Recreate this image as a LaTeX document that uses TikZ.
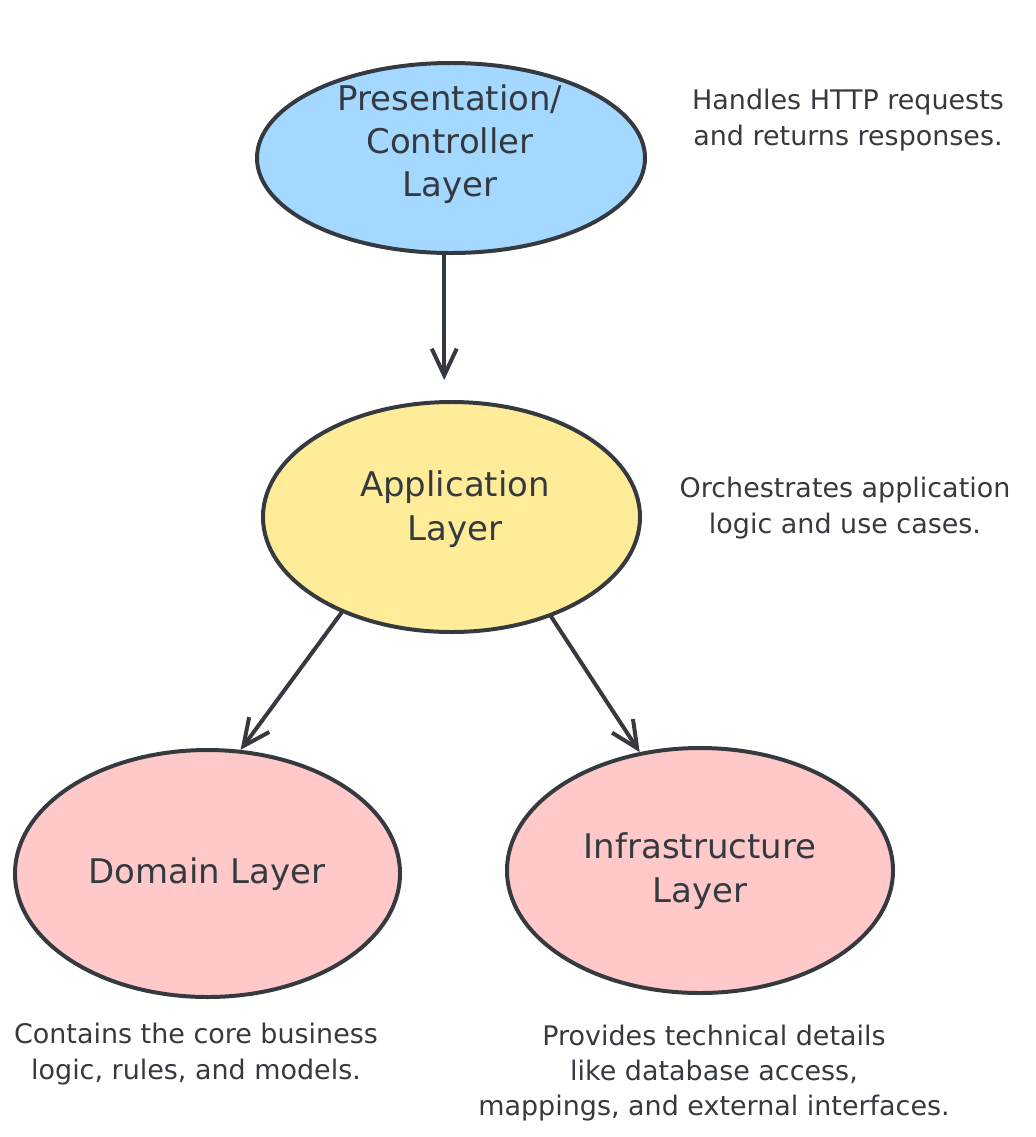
\documentclass[tikz,border=0pt]{standalone}
\usepackage{fontspec}
\setmainfont{DejaVu Sans}
\usetikzlibrary{
  shapes.geometric, % Shape "ellipse"
  arrows.meta,
}
\definecolor{ink}{HTML}{343A40}
\definecolor{presfill}{HTML}{A5D8FF}
\definecolor{appfill}{HTML}{FFEC99}
\definecolor{layerfill}{HTML}{FFC9C9}
\def\mylw{3.4pt}
\def\myarrowdist{0.6cm}
\tikzset{
  >={Straight Barb[length=8mm,width=7.5mm]},
  my layer/.style={
    draw=ink,
    line width=\mylw,
    ellipse,
    inner sep=0mm
  },
  my label/.style={
    align=center,
    text=ink,
    inner sep=0mm,
    font=\fontsize{29}{37}\selectfont
  },
  my note/.style={
    align=center,
    text=ink,
    inner sep=0mm,
    font=\fontsize{23}{30}\selectfont
  },
  my arrow/.style={
    draw=ink,
    line width=\mylw,
    line cap=round,
    ->
  }
}

\begin{document}
\begin{tikzpicture}[x=0.03cm,y=-0.03cm]
\useasboundingbox (0,0) rectangle (1036,1137);
% layers
\node[my layer,fill=presfill,minimum width=11.64cm,minimum height=5.7cm]  (pres)  at (451,158)   {};
\node[my layer,fill=appfill,minimum width=11.31cm,minimum height=6.9cm]   (app)   at (451.5,517) {};
\node[my layer,fill=layerfill,minimum width=11.55cm,minimum height=7.41cm] (dom)   at (207.5,873.5) {};
\node[my layer,fill=layerfill,minimum width=11.58cm,minimum height=7.35cm] (infra) at (700,870.5) {};
\node[my label] (pres text)  at (450,144) {Presentation/\\Controller\\Layer};
\node[my label] (app text)   at (455,509) {Application\\Layer};
\node[my label] (dom text)   at (207,874) {Domain Layer};
\node[my label] (infra text) at (700,871) {Infrastructure\\Layer};
% notes
\node[my note] (pres note)  at (848,120)  {Handles HTTP requests\\and returns responses.};
\node[my note] (app note)   at (845,508)  {Orchestrates application\\logic and use cases.};
\node[my note] (dom note)   at (196,1054) {Contains the core business\\logic, rules, and models.};
\node[my note] (infra note) at (714,1073) {Provides technical details\\like database access,\\mappings, and external interfaces.};
% arrows
\draw[my arrow,shorten >=\myarrowdist] (pres.266) -- (pres.266 |- app.north);
\draw[my arrow] (app.221) -- (dom.75);
\draw[my arrow] (app.315) -- (infra.117);
\end{tikzpicture}
\end{document}
